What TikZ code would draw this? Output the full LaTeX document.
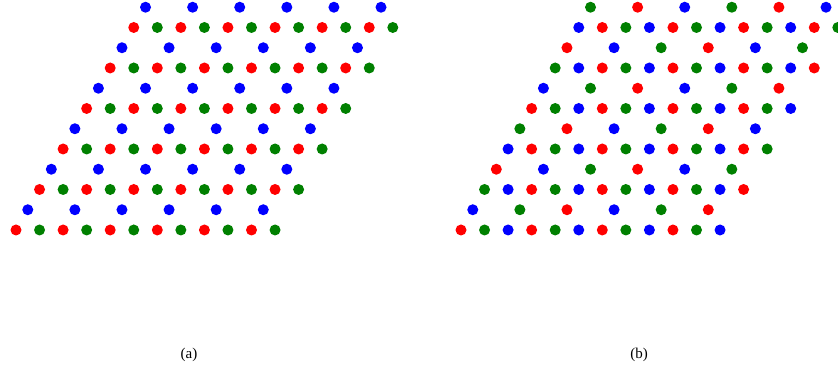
\documentclass[tikz,border=0pt]{standalone}
\usepackage{fontspec}
\setmainfont{Liberation Serif}
\usepackage{xcolor}
\usepackage{tikz}
\definecolor{dkgreen}{RGB}{0,128,0}

\begin{document}
\begin{tikzpicture}[x=0.8pt,y=0.8pt]
\tikzset{site/.style={fill=#1},caption/.style={font=\fontsize{12}{14}\selectfont}}
\useasboundingbox (0,0) rectangle (838,377);
\foreach \j in {0,...,11}{
\foreach \i in {0,...,11}{
\pgfmathtruncatemacro\keep{1-mod(\i,2)*mod(\j,2)}
\ifnum\keep=1
\pgfmathtruncatemacro\ca{mod(\j,2)==1 ? 2 : mod(\i,2)}
\pgfmathtruncatemacro\cb{mod(\i+2*\j,3)}
\ifcase\ca\def\cola{red}\or\def\cola{dkgreen}\else\def\cola{blue}\fi
\ifcase\cb\def\colb{red}\or\def\colb{dkgreen}\else\def\colb{blue}\fi
\fill[site=\cola](16+23.55*\i+11.775*\j,147+20.25*\j)circle[radius=4.4pt];
\fill[site=\colb](461+23.55*\i+11.775*\j,147+20.25*\j)circle[radius=4.4pt];
\fi}}
\node[caption] (a) at (189,22){(a)};
\node[caption] (b) at (639,22){(b)};
\end{tikzpicture}
\end{document}
